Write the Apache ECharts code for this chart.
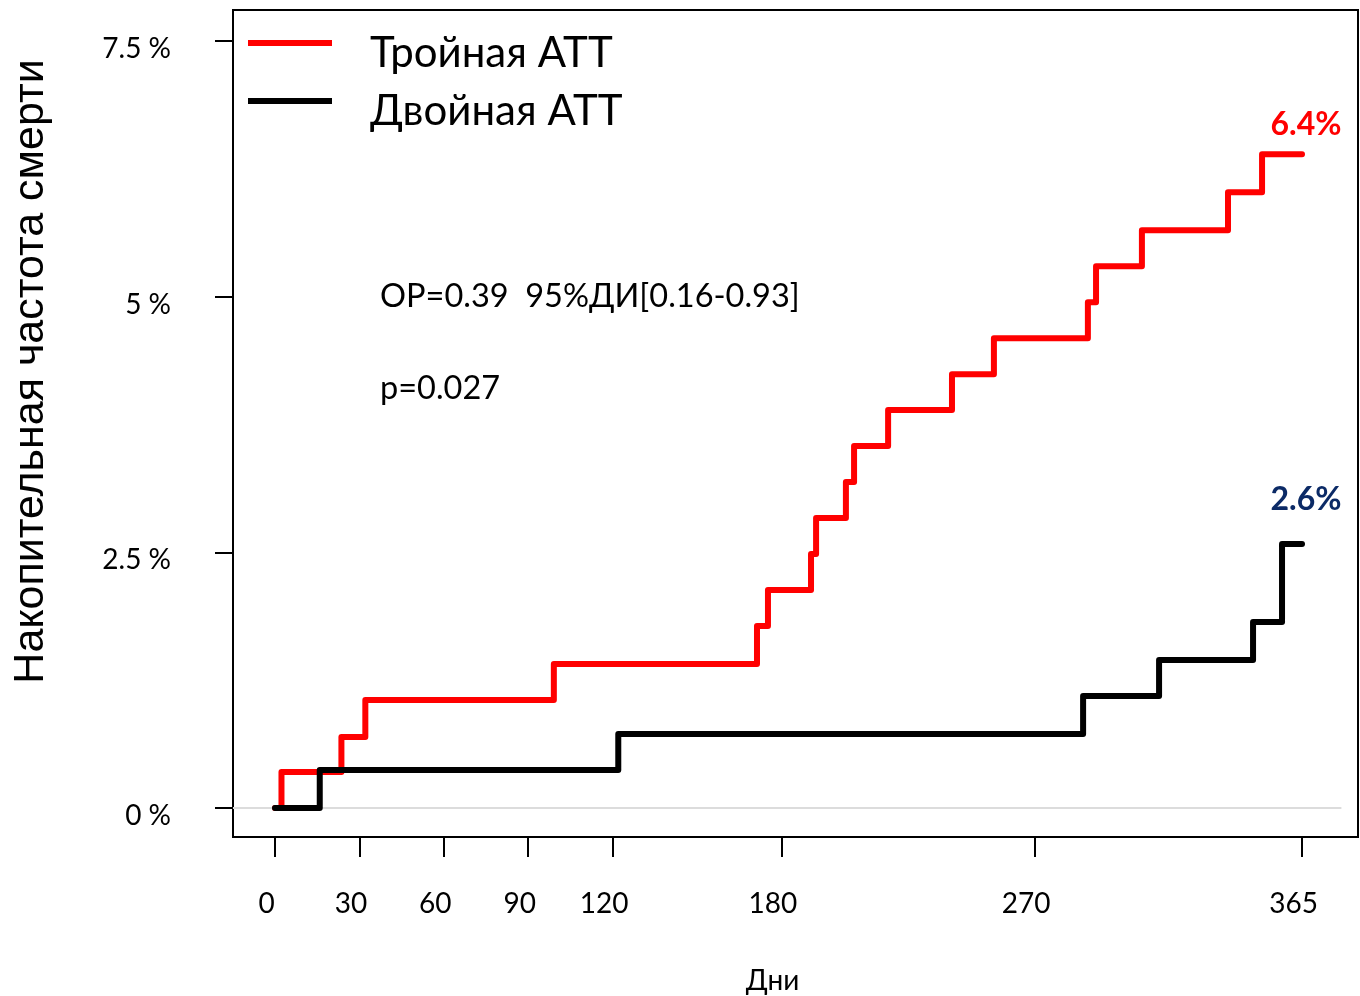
<!DOCTYPE html>
<html>
<head>
<meta charset="utf-8">
<script src="https://cdn.jsdelivr.net/npm/echarts@6/dist/echarts.min.js"></script>
<style>html,body{margin:0;padding:0;background:#fff;}#chart{width:1360px;height:996px;}</style>
</head>
<body>
<div id="chart"></div>
<script>
// ---- data ----
const seriesNames = ['Тройная АТТ', 'Двойная АТТ'];
const tripleDays   = [0, 2.3, 23.6, 32.1, 99.1, 171.3, 175.2, 190.5, 192.3, 202.9, 205.8, 217.9, 240.6, 255.5, 288.9, 291.8, 308.1, 338.7, 350.8, 365];
const tripleValues = [0, 0.352, 0.694, 1.056, 1.408, 1.779, 2.131, 2.483, 2.835, 3.187, 3.539, 3.891, 4.242, 4.594, 4.946, 5.298, 5.650, 6.022, 6.393, 6.393];
const dualDays     = [0, 15.9, 122.0, 287.2, 314.2, 347.6, 357.9, 365];
const dualValues   = [0, 0.371, 0.723, 1.095, 1.447, 1.818, 2.581, 2.581];
const xTicks = [0, 30, 60, 90, 120, 180, 270, 365];
const yTicks = [0, 2.5, 5, 7.5];
const yTickLabels = ['0 %', '2.5 %', '5 %', '7.5 %'];
const endLabels = ['6.4%', '2.6%'];
const statsText = ['ОР=0.39  95%ДИ[0.16-0.93]', 'p=0.027'];
const xTitle = 'Дни';
const yTitle = 'Накопительная частота смерти';

const zip = (a, b) => a.map((v, i) => [v, b[i]]);
const FONT = 'Lato, "Open Sans", sans-serif';

const chart = echarts.init(document.getElementById('chart'), null, {renderer: 'canvas'});
const legendIcon = 'path://M0,0H84V6H0Z M0,25.9H0.1V26H0Z';

chart.setOption({
  animation: false,
  backgroundColor: '#ffffff',
  grid: {left: 233, top: 10, right: 2, bottom: 159, containLabel: false, outerBoundsMode: 'none',
         show: true, borderColor: '#000', borderWidth: 2, backgroundColor: 'transparent'},
  legend: {
    left: 248, top: 32, padding: 0, orient: 'vertical', itemGap: 16,
    itemWidth: 84, itemHeight: 26,
    data: [{name: seriesNames[0], icon: legendIcon}, {name: seriesNames[1], icon: legendIcon}],
    textStyle: {fontFamily: FONT, fontSize: 42, color: '#000', lineHeight: 40, padding: [0, 0, 0, 33]},
    selectedMode: false
  },
  xAxis: {
    type: 'value', min: -14.93, max: 384.9,
    name: xTitle, nameLocation: 'middle', nameGap: 130,
    nameTextStyle: {fontFamily: FONT, fontSize: 28, color: '#000', padding: [0, 46, 0, 0]},
    axisLine: {show: false, onZero: false},
    splitLine: {show: false},
    axisTick: {show: true, customValues: xTicks, length: 20, lineStyle: {color: '#000', width: 2}},
    axisLabel: {customValues: xTicks, fontFamily: FONT, fontSize: 28, color: '#000', margin: 53, padding: [0, 17, 0, 0]}
  },
  yAxis: {
    type: 'value', min: -0.2836, max: 7.803,
    name: yTitle, nameLocation: 'middle', nameGap: 180,
    nameTextStyle: {fontFamily: '"Liberation Sans", Arial, sans-serif', fontSize: 43, color: '#000', padding: [0, 0, 0, 104]},
    axisLine: {show: false, onZero: false},
    splitLine: {show: false},
    axisTick: {show: true, customValues: yTicks, length: 18, lineStyle: {color: '#000', width: 2}},
    axisLabel: {
      customValues: yTicks, fontFamily: FONT, fontSize: 28, color: '#000', margin: 62,
      verticalAlign: 'top', lineHeight: 16,
      formatter: v => yTickLabels[yTicks.indexOf(v)]
    }
  },
  graphic: [
    {type: 'text', left: 380, top: 280, style: {text: statsText[0], font: '32.5px ' + FONT, fill: '#000'}},
    {type: 'text', left: 380, top: 372, style: {text: statsText[1], font: '32.5px ' + FONT, fill: '#000'}}
  ],
  series: [
    {
      name: seriesNames[0], type: 'line', step: 'end', showSymbol: false, symbol: 'none',
      data: zip(tripleDays, tripleValues),
      color: '#ff0000',
      lineStyle: {color: '#ff0000', width: 6, cap: 'round', join: 'round'},
      z: 3,
      markLine: {
        silent: true, symbol: 'none', z: 1, label: {show: false},
        lineStyle: {color: '#dcdcdc', width: 2, type: 'solid'},
        data: [[{coord: [-14.93, 0]}, {coord: [379, 0]}]]
      },
      markPoint: {
        symbol: 'circle', symbolSize: 0, silent: true,
        label: {show: true, position: 'top', distance: 14, offset: [4, 0], formatter: endLabels[0], fontFamily: FONT, fontWeight: 'bold', fontSize: 32, color: '#ff0000'},
        data: [{coord: [tripleDays[tripleDays.length - 1], tripleValues[tripleValues.length - 1]]}]
      }
    },
    {
      name: seriesNames[1], type: 'line', step: 'end', showSymbol: false, symbol: 'none',
      data: zip(dualDays, dualValues),
      color: '#000000',
      lineStyle: {color: '#000000', width: 6, cap: 'round', join: 'round'},
      z: 4,
      markPoint: {
        symbol: 'circle', symbolSize: 0, silent: true,
        label: {show: true, position: 'top', distance: 28, offset: [4, 0], formatter: endLabels[1], fontFamily: FONT, fontWeight: 'bold', fontSize: 32, color: '#0b2a66'},
        data: [{coord: [dualDays[dualDays.length - 1], dualValues[dualValues.length - 1]]}]
      }
    }
  ]
});
</script>
</body>
</html>
